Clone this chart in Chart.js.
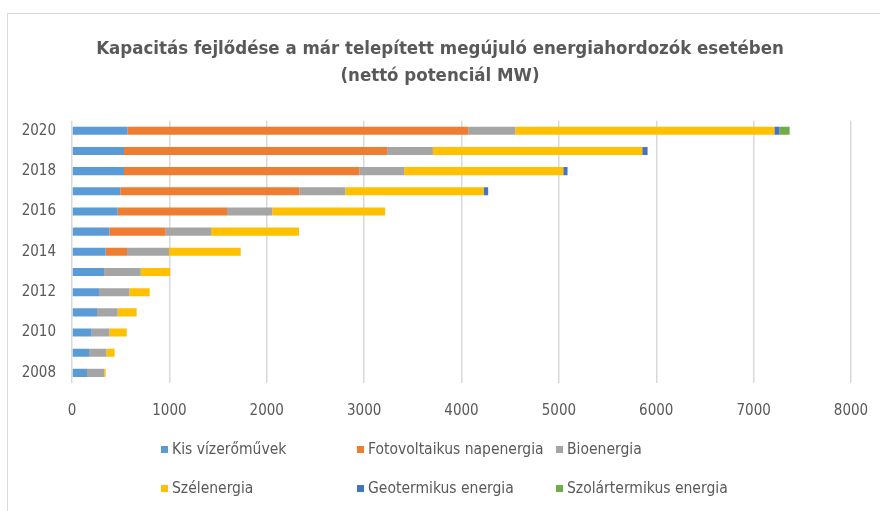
<!DOCTYPE html>
<html>
<head>
<meta charset="utf-8">
<script src="https://cdn.jsdelivr.net/npm/chart.js@4.4.1/dist/chart.umd.min.js"></script>
<style>
  html, body { margin: 0; padding: 0; background: #fff; }
  #wrap { position: relative; width: 880px; height: 511px; overflow: hidden; }
  #frame { position: absolute; left: 7px; top: 13px; width: 900px; height: 520px; border: 1.5px solid #d9d9d9; box-sizing: border-box; }
  canvas { position: absolute; left: 0; top: 0; }
</style>
</head>
<body>
<div id="wrap">
  <div id="frame"></div>
  <canvas id="myChart" width="880" height="511"></canvas>
</div>
<script>
var FONT = "'Liberation Sans Narrow', 'DejaVu Sans Condensed', Lato, sans-serif";

var years = [2008, 2009, 2010, 2011, 2012, 2013, 2014, 2015, 2016, 2017, 2018, 2019, 2020];

// MW
var kisVizeromuvek = [154, 175, 202, 257, 277, 336, 346, 383, 469, 496, 534, 534, 572];
var fotovoltaikus  = [0, 0, 0, 0, 0, 10, 219, 579, 1123, 1839, 2418, 2702, 3497];
var bioenergia     = [178, 178, 182, 212, 312, 360, 432, 466, 466, 473, 459, 470, 483];
var szelenergia    = [14, 85, 178, 195, 209, 301, 736, 904, 1158, 1418, 1634, 2150, 2661];
var geotermikus    = [0, 0, 0, 0, 0, 0, 0, 0, 0, 48, 44, 55, 51];
var szolartermikus = [0, 0, 0, 0, 0, 0, 0, 0, 0, 0, 0, 0, 106];

var xTicks = [0, 1000, 2000, 3000, 4000, 5000, 6000, 7000, 8000];

var seriesNames = ['Kis vízerőművek', 'Fotovoltaikus napenergia', 'Bioenergia',
                   'Szélenergia', 'Geotermikus energia', 'Szolártermikus energia'];
var seriesColors = ['#5b9bd5', '#ed7d31', '#a5a5a5', '#ffc000', '#4472c4', '#70ad47'];
var seriesData = [kisVizeromuvek, fotovoltaikus, bioenergia, szelenergia, geotermikus, szolartermikus];

var datasets = seriesNames.map(function (name, i) {
    return {
        label: name,
        data: seriesData[i],
        backgroundColor: seriesColors[i],
        borderWidth: 0,
        categoryPercentage: 1,
        barPercentage: 0.4
    };
});

// excel-like legend: fixed columns, 2 rows
var legendPlugin = {
    id: 'fixedLegend',
    afterDraw: function (chart) {
        var ctx = chart.ctx;
        var cols = [161, 357, 556];
        var rows = [450, 489];
        ctx.save();
        ctx.font = '15.5px ' + FONT;
        ctx.textBaseline = 'middle';
        ctx.textAlign = 'left';
        chart.data.datasets.forEach(function (ds, i) {
            var x = cols[i % 3];
            var y = rows[Math.floor(i / 3)];
            ctx.fillStyle = ds.backgroundColor;
            ctx.fillRect(x, y - 4, 7, 7);
            ctx.fillStyle = '#595959';
            ctx.fillText(ds.label, x + 11, y);
        });
        ctx.restore();
    }
};

var ctx = document.getElementById('myChart').getContext('2d');

var myChart = new Chart(ctx, {
    type: 'bar',
    data: {
        labels: years,
        datasets: datasets
    },
    plugins: [legendPlugin],
    options: {
        indexAxis: 'y',
        responsive: false,
        animation: false,
        layout: { padding: 0 },
        plugins: {
            legend: { display: false },
            tooltip: { enabled: false },
            title: {
                display: true,
                text: ['Kapacitás fejlődése a már telepített megújuló energiahordozók esetében',
                       '(nettó potenciál MW)'],
                color: '#595959',
                font: { family: FONT, size: 18.5, weight: 'bold', lineHeight: 1.45 },
                padding: { top: 36, bottom: 31 }
            }
        },
        scales: {
            x: {
                stacked: true,
                min: 0,
                max: 8000,
                afterBuildTicks: function (scale) {
                    scale.ticks = xTicks.map(function (v) { return { value: v }; });
                },
                afterFit: function (scale) {
                    scale.height = 128;
                    scale.paddingLeft = 0;
                    scale.paddingRight = 29;
                },
                grid: { color: '#d9d9d9', lineWidth: 1.5, drawTicks: false },
                border: { display: false },
                ticks: {
                    color: '#595959',
                    font: { family: FONT, size: 15 },
                    padding: 19,
                    maxRotation: 0,
                    callback: function (v) { return String(v); }
                }
            },
            y: {
                stacked: true,
                reverse: true,
                afterFit: function (scale) { scale.width = 72; },
                grid: { display: false, drawTicks: false },
                border: { display: false },
                ticks: {
                    color: '#595959',
                    font: { family: FONT, size: 15 },
                    padding: 16,
                    autoSkip: false,
                    callback: function (v, i) {
                        var yr = years[i];
                        return yr % 2 === 0 ? String(yr) : '';
                    }
                }
            }
        }
    }
});
</script>
</body>
</html>
